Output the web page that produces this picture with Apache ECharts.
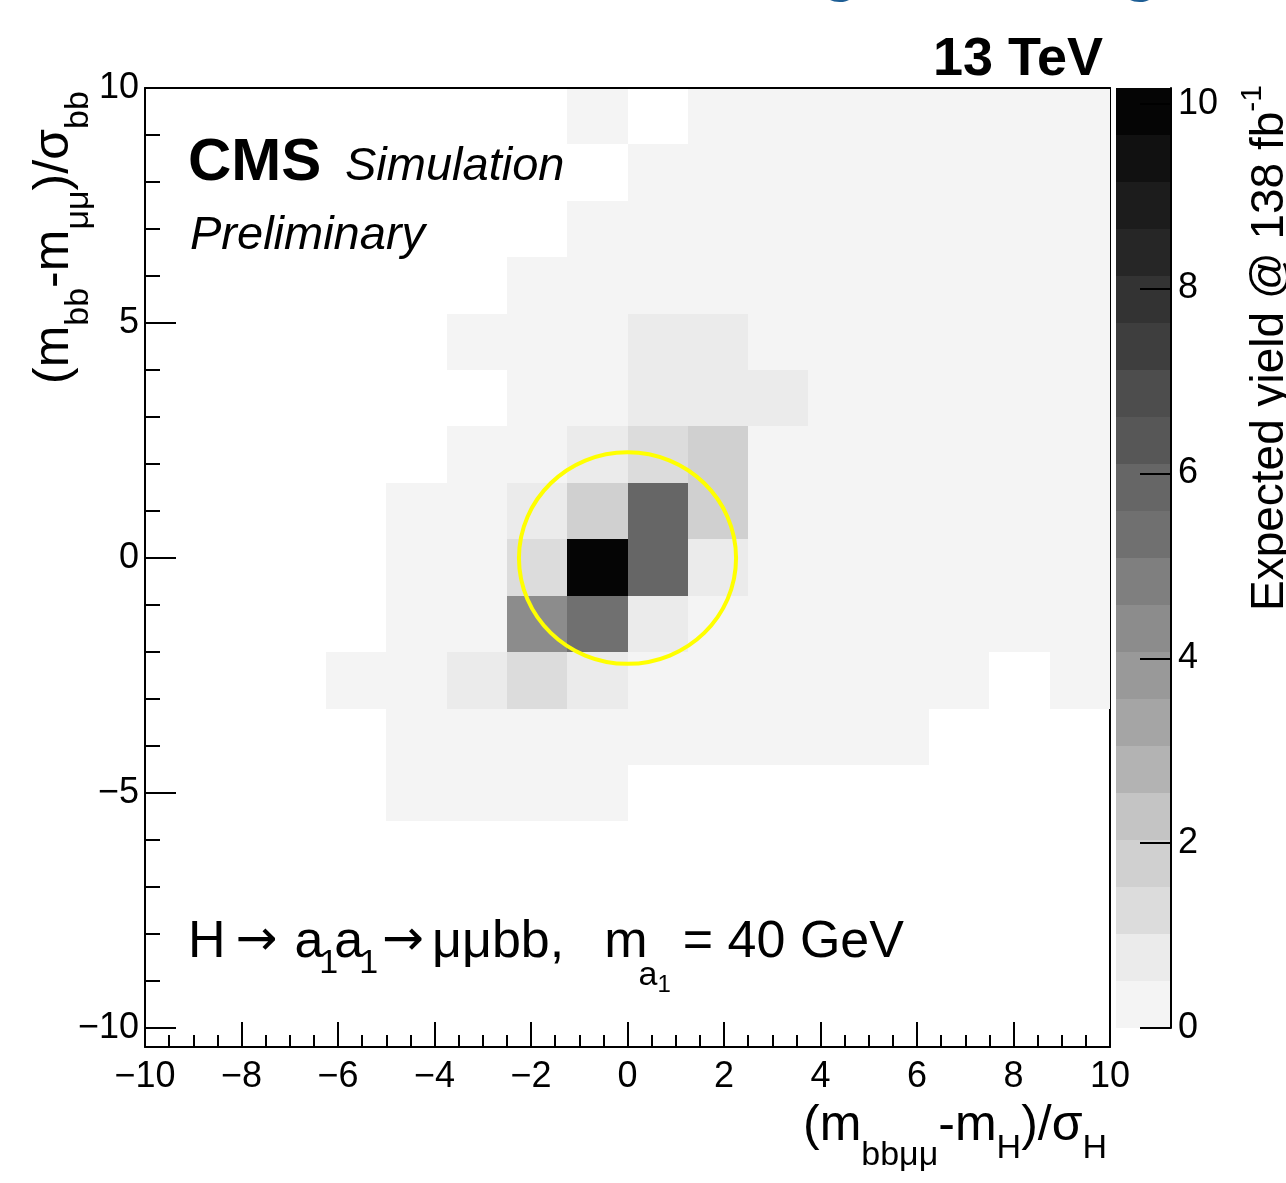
<!DOCTYPE html>
<html><head><meta charset="utf-8">
<script src="https://cdn.jsdelivr.net/npm/echarts@6/dist/echarts.min.js"></script>
<style>html,body{margin:0;padding:0;background:#fff}#c{width:1286px;height:1183px}</style>
</head><body><div id="c"></div>
<script>
// ---------------- data ----------------
// x bins: 16 bins of width 1.25 from -10 ; y bins: 17 bins of width 1.2 from -10.4
const xBinStart = -10, xBinWidth = 1.25;
const yBinStart = -10.4, yBinWidth = 1.2;
// expected yield per bin, rows listed from the TOP y bin (8.8..10) down to the bottom bin
const yieldRows = [
  [0,0,0,0,0,0,0,0.06,0,0.05,0.07,0.08,0.06,0.07,0.05,0.08],
  [0,0,0,0,0,0,0,0,0.09,0.10,0.08,0.09,0.07,0.08,0.06,0.07],
  [0,0,0,0,0,0,0,0.08,0.14,0.13,0.12,0.10,0.09,0.08,0.07,0.08],
  [0,0,0,0,0,0,0.07,0.12,0.22,0.20,0.16,0.12,0.10,0.09,0.08,0.07],
  [0,0,0,0,0,0.06,0.14,0.28,0.62,0.58,0.25,0.15,0.11,0.09,0.08,0.07],
  [0,0,0,0,0,0,0.18,0.35,0.78,0.85,0.56,0.22,0.13,0.10,0.08,0.07],
  [0,0,0,0,0,0.12,0.30,0.82,1.28,1.82,0.40,0.20,0.12,0.10,0.08,0.07],
  [0,0,0,0,0.08,0.22,0.76,1.79,5.85,1.75,0.38,0.16,0.11,0.09,0.07,0.06],
  [0,0,0,0,0.10,0.30,1.22,10.17,5.80,0.72,0.30,0.15,0.10,0.08,0.07,0.06],
  [0,0,0,0,0.14,0.45,4.30,5.30,0.80,0.36,0.20,0.13,0.09,0.08,0.06,0.05],
  [0,0,0,0.06,0.18,0.70,1.30,0.82,0.42,0.22,0.14,0.10,0.08,0.06,0,0.05],
  [0,0,0,0,0.10,0.22,0.40,0.46,0.28,0.16,0.10,0.07,0.05,0,0,0],
  [0,0,0,0,0.06,0.10,0.14,0.12,0,0,0,0,0,0,0,0],
  [0,0,0,0,0,0,0,0,0,0,0,0,0,0,0,0],
  [0,0,0,0,0,0,0,0,0,0,0,0,0,0,0,0],
  [0,0,0,0,0,0,0,0,0,0,0,0,0,0,0,0],
  [0,0,0,0,0,0,0,0,0,0,0,0,0,0,0,0]
];
const zMax = 10.17;
const greyPalette = ['#f4f4f4','#ebebeb','#dcdcdc','#d0d0d0','#c4c4c4','#b3b3b3','#a5a5a5','#999999','#8c8c8c','#7f7f7f',
                     '#707070','#666666','#575757','#4d4d4d','#3e3e3e','#333333','#262626','#1c1c1c','#111111','#050505'];
const yMajorTicks = [-10,-5,0,5,10];
const yMinorTicks = [-10,-9,-8,-7,-6,-5,-4,-3,-2,-1,0,1,2,3,4,5,6,7,8,9,10];
const zTicks = [0,2,4,6,8,10];
const circleCenter = [0,0], circleRadius = 2.25;

// ---------------- build ----------------
const nY = yieldRows.length;
const cellData = [];
yieldRows.forEach((row, k) => {
  const j = nY - 1 - k;
  const y0 = yBinStart + j * yBinWidth, y1 = y0 + yBinWidth;
  row.forEach((v, i) => {
    if (v > 0) {
      const x0 = xBinStart + i * xBinWidth;
      cellData.push([x0, x0 + xBinWidth, y0, y1, v]);
    }
  });
});
const nBands = greyPalette.length;
const pieces = [], barData = [];
for (let i = 0; i < nBands; i++) {
  const lo = zMax * i / nBands, hi = zMax * (i + 1) / nBands;
  pieces.push(i === nBands - 1 ? {gte: lo, lte: hi + 1e-9, color: greyPalette[i]} : {gte: lo, lt: hi, color: greyPalette[i]});
  barData.push([0, 1, lo, hi, (lo + hi) / 2]);
}

function rectItem(params, api) {
  const p0 = api.coord([api.value(0), api.value(3)]);
  const p1 = api.coord([api.value(1), api.value(2)]);
  const x = Math.round(p0[0]), y = Math.round(p0[1]);
  return {type: 'rect', shape: {x: x, y: y, width: Math.round(p1[0]) - x, height: Math.round(p1[1]) - y},
          style: {fill: api.visual('color'), stroke: null}};
}

// ---------------- text helpers ----------------
const FAM = "'Liberation Sans', Arial, Helvetica, sans-serif";
const FAM_SYM = "'DejaVu Sans', sans-serif";
const mctx = document.createElement('canvas').getContext('2d');
function fontStr(p) { return (p.it ? 'italic' : 'normal') + ' ' + (p.bold ? 'bold' : 'normal') + ' ' + p.size + 'px ' + (p.fam || FAM); }
function midOff(font) {
  mctx.font = font; mctx.textBaseline = 'middle';
  const a = mctx.measureText('H').actualBoundingBoxAscent;
  mctx.textBaseline = 'alphabetic';
  const b = mctx.measureText('H').actualBoundingBoxAscent;
  return b - a;
}
function textRun(x0, y0, parts, opts) {
  opts = opts || {};
  const ms = parts.map(p => { const f = fontStr(p); mctx.font = f; mctx.textBaseline = 'alphabetic'; return {f: f, w: mctx.measureText(p.t).width, d: midOff(f)}; });
  const total = ms.reduce((s, m) => s + m.w, 0) + parts.reduce((s, p) => s + (p.gap || 0), 0);
  let adv = opts.align === 'right' ? -total : 0;
  const els = [];
  parts.forEach((p, k) => {
    const m = ms[k], dy = p.dy || 0;
    adv += (p.gap || 0);
    let x, y;
    if (!opts.rot) { x = x0 + adv; y = y0 + dy - m.d; }
    else { x = x0 + dy - m.d; y = y0 - adv; }
    els.push({type: 'text', x: x, y: y, rotation: opts.rot ? Math.PI / 2 : 0, silent: true, z: 100,
      style: {text: p.t, font: m.f, fill: opts.color || '#000', textAlign: 'left', textVerticalAlign: 'middle', align: 'left', verticalAlign: 'middle'}});
    adv += m.w;
  });
  return els;
}

const texts = [].concat(
  textRun(822, -10, [{t: 'g', size: 60, bold: true}], {color: '#1f5f96'}),
  textRun(1122, -10, [{t: 'g', size: 60, bold: true}], {color: '#1f5f96'}),
  textRun(1103, 75, [{t: '13 TeV', size: 54, bold: true}], {align: 'right'}),
  textRun(188, 180, [{t: 'CMS', size: 60, bold: true}]),
  textRun(345, 180, [{t: 'Simulation', size: 47, it: true}]),
  textRun(190, 249, [{t: 'Preliminary', size: 47, it: true}]),
  textRun(188, 957, [
    {t: 'H', size: 52}, {t: '\u2192', size: 50, fam: FAM_SYM, dy: -2, gap: 10}, {t: 'a', size: 52, gap: 17},
    {t: '1', size: 34, dy: 16, gap: -4}, {t: 'a', size: 52, gap: -4}, {t: '1', size: 34, dy: 16, gap: -4},
    {t: '\u2192', size: 50, fam: FAM_SYM, dy: -2, gap: 4}, {t: '\u03bc\u03bcbb,', size: 52, gap: 8},
    {t: 'm', size: 52, gap: 40}, {t: 'a', size: 34, dy: 28, gap: -9}, {t: '1', size: 24, dy: 35},
    {t: '= 40 GeV', size: 52, gap: 12}]),
  textRun(803, 1140, [
    {t: '(m', size: 50}, {t: 'bb\u03bc\u03bc', size: 34, dy: 25}, {t: '-m', size: 50}, {t: 'H', size: 34, dy: 18},
    {t: ')/\u03c3', size: 50}, {t: 'H', size: 34, dy: 18}]),
  textRun(68, 384, [
    {t: '(m', size: 50}, {t: 'bb', size: 34, dy: 20}, {t: '-m', size: 50}, {t: '\u03bc\u03bc', size: 34, dy: 20},
    {t: ')/\u03c3', size: 50}, {t: 'bb', size: 34, dy: 20}], {rot: true}),
  textRun(1283, 85, [{t: 'Expected yield @ 138 fb', size: 46}, {t: '-1', size: 30, dy: -22}], {rot: true, align: 'right'})
);

// ---------------- chart ----------------
const minusFmt = v => String(v).replace('-', '\u2212');
const lbl = {color: '#000', fontSize: 36, fontFamily: FAM};
const blackLine = {color: '#000', width: 2};
const chart = echarts.init(document.getElementById('c'), null, {renderer: 'canvas', width: 1286, height: 1183});
chart.setOption({
  animation: false,
  backgroundColor: '#fff',
  grid: [
    {left: 145, top: 88, width: 965, height: 959, show: false},
    {left: 1116, top: 88, width: 55, height: 940, show: false}
  ],
  xAxis: [
    {type: 'value', gridIndex: 0, min: -10, max: 10, interval: 2, position: 'bottom', z: 5,
     axisLine: {show: true, onZero: false, lineStyle: blackLine},
     axisTick: {show: true, inside: true, length: 25, lineStyle: blackLine},
     minorTick: {show: true, splitNumber: 4, length: 12, lineStyle: blackLine},
     axisLabel: Object.assign({margin: 12, formatter: minusFmt}, lbl),
     splitLine: {show: false}, minorSplitLine: {show: false}},
    {type: 'value', gridIndex: 0, min: -10, max: 10, position: 'top', z: 5,
     axisLine: {show: true, onZero: false, lineStyle: blackLine}, axisTick: {show: false}, axisLabel: {show: false}, splitLine: {show: false}},
    {type: 'value', gridIndex: 1, min: 0, max: 1, show: false, axisLine: {onZero: false}, splitLine: {show: false}}
  ],
  yAxis: [
    {type: 'value', gridIndex: 0, min: -10.4, max: 10, position: 'left', z: 5,
     axisLine: {show: true, onZero: false, lineStyle: blackLine},
     axisTick: {show: true, inside: true, length: 31, lineStyle: blackLine, customValues: yMajorTicks},
     axisLabel: Object.assign({margin: 6, formatter: minusFmt, customValues: yMajorTicks}, lbl),
     splitLine: {show: false}},
    {type: 'value', gridIndex: 0, min: -10.4, max: 10, position: 'left', z: 5,
     axisLine: {show: false, onZero: false},
     axisTick: {show: true, inside: true, length: 15, lineStyle: blackLine, customValues: yMinorTicks},
     axisLabel: {show: false}, splitLine: {show: false}},
    {type: 'value', gridIndex: 0, min: -10.4, max: 10, position: 'right', z: 0,
     axisLine: {show: true, onZero: false, lineStyle: blackLine}, axisTick: {show: false}, axisLabel: {show: false}, splitLine: {show: false}},
    {type: 'value', gridIndex: 1, min: 0, max: zMax, position: 'right', z: 5,
     axisLine: {show: true, onZero: false, lineStyle: blackLine},
     axisTick: {show: true, inside: true, length: 31, lineStyle: blackLine, customValues: zTicks},
     axisLabel: Object.assign({margin: 7, customValues: zTicks}, lbl),
     splitLine: {show: false}}
  ],
  visualMap: {type: 'piecewise', show: false, dimension: 4, seriesIndex: [0, 2], pieces: pieces},
  series: [
    {type: 'custom', xAxisIndex: 0, yAxisIndex: 0, z: 2, data: cellData, encode: {x: [0, 1], y: [2, 3]}, renderItem: rectItem},
    {type: 'custom', xAxisIndex: 0, yAxisIndex: 0, z: 3, data: [[circleCenter[0], circleCenter[1], circleRadius]],
     renderItem: function (params, api) {
       const c = api.coord([api.value(0), api.value(1)]);
       const s = api.size([api.value(2), api.value(2)]);
       return {type: 'ellipse', shape: {cx: c[0], cy: c[1], rx: s[0], ry: s[1]},
               style: {fill: 'none', stroke: '#ffff00', lineWidth: 4}};
     }},
    {type: 'custom', xAxisIndex: 2, yAxisIndex: 3, z: 2, data: barData, encode: {x: [0, 1], y: [2, 3]}, renderItem: rectItem}
  ],
  graphic: texts
});
</script></body></html>
